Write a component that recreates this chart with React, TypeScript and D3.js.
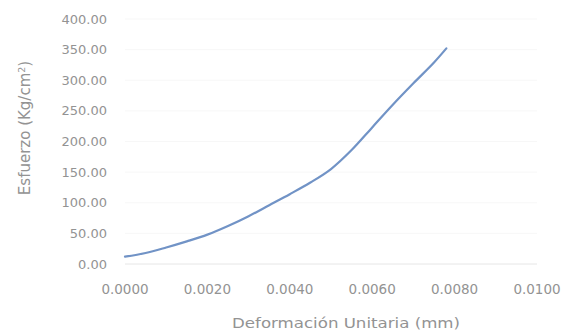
import React from "react";
import * as d3 from "d3";

const strain = [0, 0.0005, 0.001, 0.0015, 0.002, 0.0025, 0.003, 0.0035, 0.004, 0.0045, 0.005, 0.0055, 0.006, 0.0065, 0.007, 0.0075, 0.0078];
const stress = [12, 18, 27, 37, 48, 62, 78, 96, 114, 133, 155, 186, 223, 260, 295, 329, 352];
const xTicks = [0, 0.002, 0.004, 0.006, 0.008, 0.01];
const yTicks = [0, 50, 100, 150, 200, 250, 300, 350, 400];
const xTitle = "Deformación Unitaria (mm)";
const yTitle = "Esfuerzo (Kg/cm";

export default function App() {
  const W = 579, H = 334;
  const x = d3.scaleLinear().domain([0, 0.01]).range([125, 537]);
  const y = d3.scaleLinear().domain([0, 400]).range([264, 19]);
  const data = strain.map((s, i) => [s, stress[i]] as [number, number]);
  const line = d3.line<[number, number]>().x(d => x(d[0])).y(d => y(d[1])).curve(d3.curveCatmullRom.alpha(0.5));
  const font = "'DejaVu Sans', sans-serif";
  const tc = "#939393";
  return (
    <svg width={W} height={H} style={{ position: "absolute", left: 0, top: 0, background: "#fff" }}>
      {yTicks.map(t => (
        <line key={"g" + t} x1={x(0)} x2={x(0.01)} y1={y(t)} y2={y(t)} stroke={t === 0 ? "#e6e6e6" : "#f7f7f7"} strokeWidth={1} />
      ))}
      {yTicks.map(t => (
        <text key={"y" + t} x={107} y={y(t)} dy="0.35em" textAnchor="end" fontFamily={font} fontSize={13} fill={tc}>
          {d3.format(".2f")(t)}
        </text>
      ))}
      {xTicks.map(t => (
        <text key={"x" + t} x={x(t)} y={289} dy="0.35em" textAnchor="middle" fontFamily={font} fontSize={13.5} fill={tc}>
          {d3.format(".4f")(t)}
        </text>
      ))}
      <path d={line(data) ?? ""} fill="none" stroke="#7193c6" strokeWidth={2.2} strokeLinecap="round" />
      <text x={346} y={323} dy="0.35em" textAnchor="middle" fontFamily={font} fontSize={14} fill={tc} textLength={228} lengthAdjust="spacingAndGlyphs">
        {xTitle}
      </text>
      <text transform="translate(25,128) rotate(-90)" dy="0.35em" textAnchor="middle" fontFamily={font} fontSize={15} fill={tc}>
        {yTitle}<tspan fontSize={9.5} dy="-5">2</tspan><tspan dy="5">)</tspan>
      </text>
    </svg>
  );
}
